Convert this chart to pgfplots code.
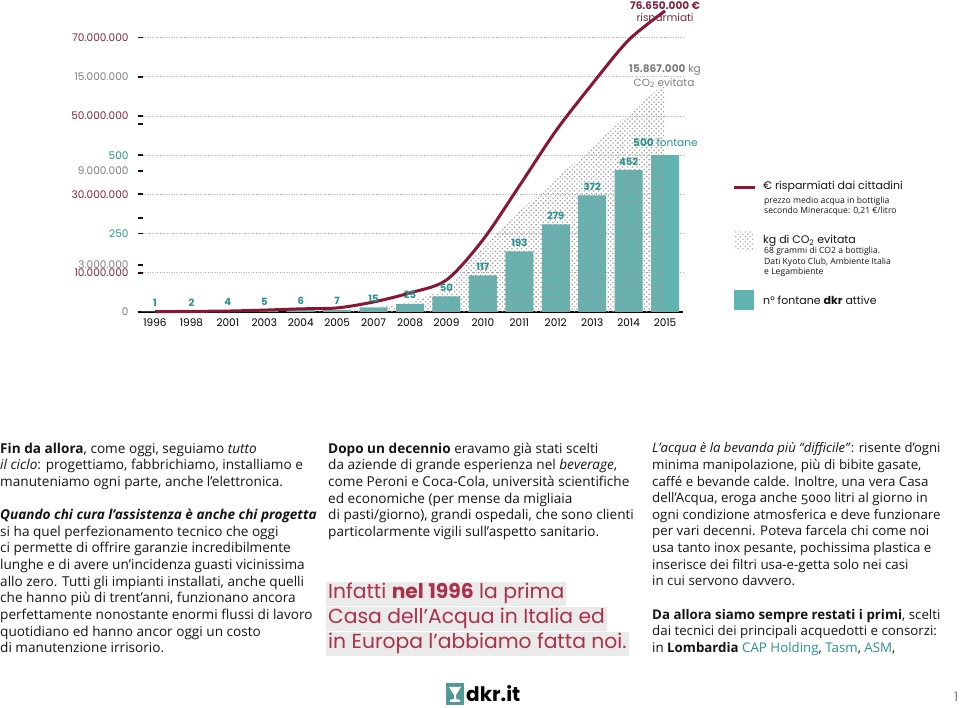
\documentclass[border=0pt]{standalone}
\usepackage{fontspec}
\setmainfont{Open Sans}
\newfontfamily\geo{Poppins}
\usepackage{pgfplots}
\pgfplotsset{compat=1.18}
\usetikzlibrary{patterns.meta}
\definecolor{maroon}{RGB}{139,22,52}
\definecolor{maroontxt}{RGB}{128,38,62}
\definecolor{bteal}{RGB}{98,180,176}
\definecolor{tealtxt}{RGB}{40,145,140}
\definecolor{greytxt}{RGB}{125,125,125}
\definecolor{redtxt}{RGB}{172,48,72}
\definecolor{hl}{RGB}{234,234,234}
\definecolor{txt}{RGB}{20,20,20}
\begin{document}
\begin{tikzpicture}
\useasboundingbox (0pt,0pt) rectangle (960pt,708pt);
\begin{axis}[
  at={(138pt,396pt)}, anchor=south west,
  x=36.43pt, y=0.3136pt,
  xmin=-0.467, xmax=14.49, ymin=0, ymax=980,
  clip=false,
  axis x line*=bottom, axis y line*=left,
  x axis line style={-, line width=2pt, black},
  y axis line style={draw=none},
  xtick={0,...,14},
  xticklabels={1996,1998,2001,2003,2004,2005,2007,2008,2009,2010,2011,2012,2013,2014,2015},
  x tick style={draw=none},
  xticklabel style={font=\geo\fontsize{10.5}{11}\selectfont, text=black, yshift=-3pt},
  ytick={0,150,300,450,600},
  yticklabels={\textcolor{greytxt}{0},\textcolor{greytxt}{3.000.000},{},\textcolor{greytxt}{9.000.000},{}},
  extra y ticks={125,250,375,500,625,750,875},
  extra y tick labels={\textcolor{maroontxt}{10.000.000},\textcolor{tealtxt}{250},\textcolor{maroontxt}{30.000.000},\textcolor{tealtxt}{500},\textcolor{maroontxt}{50.000.000},\textcolor{greytxt}{15.000.000},\textcolor{maroontxt}{70.000.000}},
  extra y tick style={grid=major},
  grid style={dotted, gray!60, line width=0.8pt},
  yticklabel style={font=\geo\fontsize{10.5}{11}\selectfont, xshift=-6pt},
  ytick align=inside,
  major tick length=5pt,
  y tick style={line width=1.8pt, black!70!maroon},
]
% n. fontane
\addplot[ybar, bar width=28pt, fill=bteal, draw=none,
  point meta=explicit symbolic,
  nodes near coords,
  nodes near coords align={vertical},
  every node near coord/.append style={font=\geo\bfseries\fontsize{10}{10}\selectfont, text=tealtxt, inner sep=1pt, yshift=4pt}]
  coordinates {(0,1)[1] (1,2)[2] (2,4)[4] (3,5)[5] (4,6)[6] (5,7)[7] (6,15)[15] (7,25)[25] (8,50)[50] (9,117)[117] (10,193)[193] (11,279)[279] (12,372)[372] (13,452)[452] (14,500)[{\phantom{0}}]};
% kg CO2 evitata (scala: unita x 20000 kg)
\addplot[draw=none, pattern={Dots[distance=3.4pt, radius=0.9pt, angle=45]}, pattern color=gray!80]
  coordinates {(0,0) (1,0) (2,0) (3,0.5) (4,1) (5,3) (6,13) (7,32) (8,72) (9,214) (10,319) (11,424) (12,526) (13,631) (14,730)} \closedcycle;
% euro risparmiati (scala: unita x 80000 euro)
\addplot[maroon, line width=3pt, smooth, tension=0.5]
  coordinates {(0,1) (1,2) (2,3) (3,6) (4,10) (5,13) (6,32) (7,61) (8,102) (9,230) (10,402) (11,577) (12,727) (13,867) (14,960)};
\end{axis}
\begin{scope}[x=1pt,y=-1pt,yshift=708pt]
% annotations chart
\node[font=\geo\bfseries\fontsize{10.5}{11}\selectfont, text=maroontxt, inner sep=0] at (665,6) {76.650.000 €};
\node[font=\geo\fontsize{10.5}{11}\selectfont, text=maroontxt, inner sep=0] at (665,19) {risparmiati};
\node[font=\geo\fontsize{10.5}{11}\selectfont, text=greytxt, inner sep=0] at (665,70) {\textbf{15.867.000} kg};
\node[font=\geo\fontsize{10.5}{11}\selectfont, text=greytxt, inner sep=0] at (664,83) {CO\textsubscript{2} evitata};
\node[font=\geo\fontsize{10.5}{11}\selectfont, text=tealtxt, inner sep=0, anchor=west] at (633,143) {\textbf{500} fontane};
% legend
\draw[maroon, line width=3pt] (734,188) -- (755,188);
\node[anchor=west, inner sep=0, font=\geo\fontsize{11}{12}\selectfont, text=txt] at (763,187) {€ risparmiati dai cittadini};
\node[anchor=north west, inner sep=0, align=left, font=\fontsize{8.6}{10.2}\selectfont, text=txt] at (764,197) {prezzo medio acqua in bottiglia\\secondo Mineracque: 0,21 €/litro};
\path[pattern={Dots[distance=3.4pt, radius=0.9pt, angle=45]}, pattern color=gray!65] (735,232) rectangle (754,251);
\node[anchor=west, inner sep=0, font=\geo\fontsize{11}{12}\selectfont, text=txt] at (763,241) {kg di CO\textsubscript{2} evitata};
\node[anchor=north west, inner sep=0, align=left, font=\fontsize{8.6}{10.4}\selectfont, text=txt] at (764,247) {68 grammi di CO2 a bottiglia.\\Dati Kyoto Club, Ambiente Italia\\e Legambiente};
\fill[bteal] (734,290) rectangle (754,310);
\node[anchor=west, inner sep=0, font=\geo\fontsize{11}{12}\selectfont, text=txt] at (763,300) {n° fontane \textbf{dkr} attive};
% column 1
\node[anchor=north west, inner sep=0, align=left, font=\fontsize{13.6}{16.65}\selectfont, text=txt] at (0,442.5) {%
\textbf{Fin da allora}, come oggi, seguiamo \textit{tutto}\\
\textit{il ciclo}: progettiamo, fabbrichiamo, installiamo e\\
manuteniamo ogni parte, anche l’elettronica.\\[16.65pt]
\textbf{\textit{Quando chi cura l’assistenza è anche chi progetta}}\\
si ha quel perfezionamento tecnico che oggi\\
ci permette di offrire garanzie incredibilmente\\
lunghe e di avere un’incidenza guasti vicinissima\\
allo zero. Tutti gli impianti installati, anche quelli\\
che hanno più di trent’anni, funzionano ancora\\
perfettamente nonostante enormi flussi di lavoro\\
quotidiano ed hanno ancor oggi un costo\\
di manutenzione irrisorio.};
% column 2
\node[anchor=north west, inner sep=0, align=left, font=\fontsize{13.6}{16.65}\selectfont, text=txt] at (328,442.5) {%
\textbf{Dopo un decennio} eravamo già stati scelti\\
da aziende di grande esperienza nel \textit{beverage},\\
come Peroni e Coca-Cola, università scientifiche\\
ed economiche (per mense da migliaia\\
di pasti/giorno), grandi ospedali, che sono clienti\\
particolarmente vigili sull’aspetto sanitario.};
\node[anchor=west, fill=hl, inner xsep=2pt, inner ysep=2pt, text height=15pt, text depth=5pt, font=\geo\fontsize{20.3}{22}\selectfont, text=redtxt] at (326,594) {Infatti \textbf{nel 1996} la prima};
\node[anchor=west, fill=hl, inner xsep=2pt, inner ysep=2pt, text height=15pt, text depth=5pt, font=\geo\fontsize{20.3}{22}\selectfont, text=redtxt] at (326,619) {Casa dell’Acqua in Italia ed};
\node[anchor=west, fill=hl, inner xsep=2pt, inner ysep=2pt, text height=15pt, text depth=5pt, font=\geo\fontsize{20.3}{22}\selectfont, text=redtxt] at (326,644) {in Europa l’abbiamo fatta noi.};
% column 3
\node[anchor=north west, inner sep=0, align=left, font=\fontsize{13.3}{16.65}\selectfont, text=txt] at (652,442.5) {%
{\fontsize{13.1}{16.65}\selectfont\textit{L’acqua è la bevanda più “difficile”}: risente d’ogni}\\
minima manipolazione, più di bibite gasate,\\
caffé e bevande calde. Inoltre, una vera Casa\\
dell’Acqua, eroga anche {\addfontfeature{Numbers=OldStyle}5000} litri al giorno in\\
ogni condizione atmosferica e deve funzionare\\
per vari decenni. Poteva farcela chi come noi\\
usa tanto inox pesante, pochissima plastica e\\
inserisce dei filtri usa-e-getta solo nei casi\\
in cui servono davvero.\\[16.65pt]
\textbf{Da allora siamo sempre restati i primi}, scelti\\
dai tecnici dei principali acquedotti e consorzi:\\
in \textbf{Lombardia} \textcolor{tealtxt}{CAP Holding}, \textcolor{tealtxt}{Tasm}, \textcolor{tealtxt}{ASM},};
% logo
\fill[bteal!85!black] (446,683) rectangle (464,705);
\fill[white] (449,687) -- (461,687) -- (456,695) -- (456,699) -- (460,700) -- (460,702) -- (450,702) -- (450,700) -- (454,699) -- (454,695) -- cycle;
\node[anchor=west, inner sep=0, font=\geo\bfseries\fontsize{20}{20}\selectfont, text=black] at (466,694) {dkr.it};
\node[anchor=west, inner sep=0, font=\geo\fontsize{13}{13}\selectfont, text=gray] at (954,697) {1};
\end{scope}
\end{tikzpicture}
\end{document}
